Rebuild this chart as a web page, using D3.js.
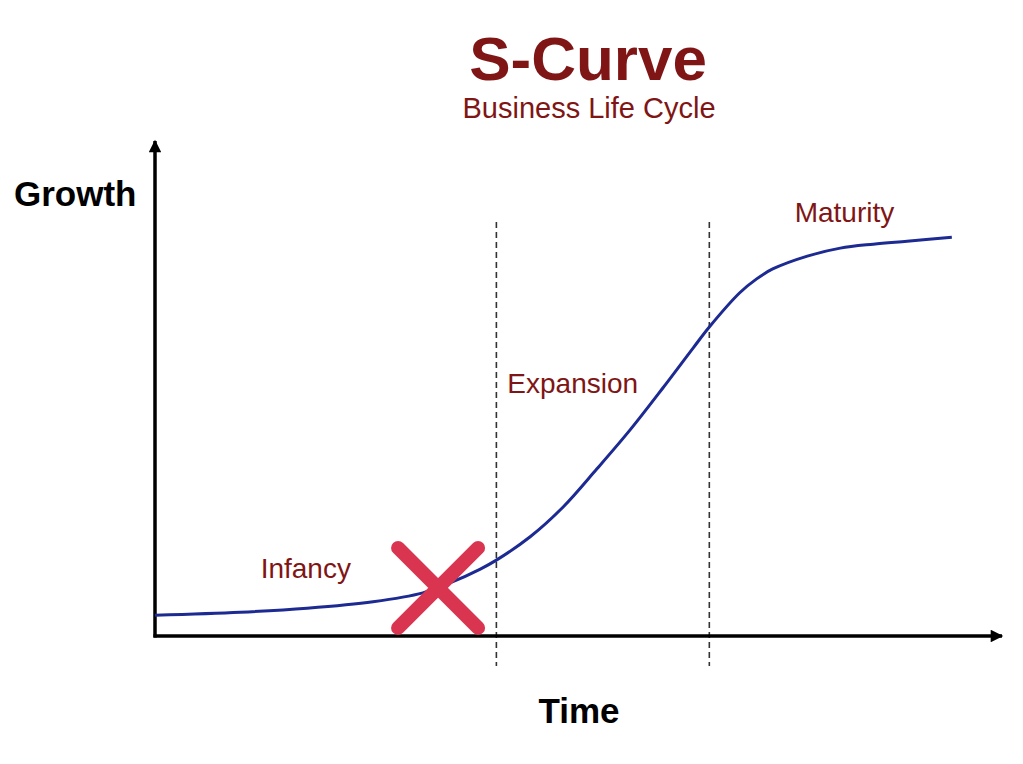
<!DOCTYPE html>
<html>
<head>
<meta charset="utf-8">
<script src="https://cdn.jsdelivr.net/npm/d3@7"></script>
<style>
  html, body { margin: 0; padding: 0; background: #fff; }
  svg { display: block; font-family: "Liberation Sans", Arial, Helvetica, sans-serif; }
</style>
</head>
<body>
<div id="chart"></div>
<script>
// curve (time, growth), both 0..100
var timeValues   = [0, 10.1, 18, 25.8, 31.7, 34.9, 38.5, 40.4, 44.4, 48.3, 52.3, 56.2, 60.1, 63.7, 65.6, 69.2, 71.2, 73.1, 77.2, 81.1, 85, 89, 94.3];
var growthValues = [4.2, 4.8, 5.6, 6.9, 8.7, 10.7, 13.5, 15.3, 20.0, 26.0, 33.7, 41.5, 50.0, 58.1, 62.3, 69.2, 72.0, 74.0, 76.6, 78.2, 79.0, 79.6, 80.4];

// stage boundaries (time) and stage labels
var stageBounds = [40.4, 65.6];
var stageNames  = ["Infancy", "Expansion", "Maturity"];
var stageLabelX = [12.5, 41.7, 75.7];
var stageLabelY = [11.7, 49.0, 83.5];

// crossed-out point
var crossPoint = [33.5, 9.7];

var width = 1023, height = 764;
var margin = { left: 155, right: 1000, top: 140, bottom: 636 };

var svg = d3.select("#chart").append("svg")
    .attr("width", width)
    .attr("height", height);

var x = d3.scaleLinear().domain([0, 100]).range([margin.left, margin.right]);
var y = d3.scaleLinear().domain([0, 100]).range([margin.bottom, margin.top]);

var points = timeValues.map(function(t, i) { return [t, growthValues[i]]; });

// arrow heads
var defs = svg.append("defs");
defs.append("marker")
    .attr("id", "arrow")
    .attr("viewBox", "0 0 10 10")
    .attr("refX", 9).attr("refY", 5)
    .attr("markerWidth", 4.4).attr("markerHeight", 3.6)
    .attr("markerUnits", "strokeWidth")
    .attr("orient", "auto")
    .append("path")
    .attr("d", "M0,0 L10,5 L0,10 Z")
    .attr("fill", "#000");

// dashed stage dividers
svg.selectAll(".divider")
    .data(stageBounds)
    .enter().append("line")
    .attr("class", "divider")
    .attr("x1", function(d) { return x(d); })
    .attr("x2", function(d) { return x(d); })
    .attr("y1", 222)
    .attr("y2", 666)
    .attr("stroke", "#333")
    .attr("stroke-width", 1.6)
    .attr("stroke-dasharray", "6,4");

// axes
svg.append("line")
    .attr("x1", x(0)).attr("y1", y(0) + 1.5)
    .attr("x2", x(0)).attr("y2", 141)
    .attr("stroke", "#000").attr("stroke-width", 3.5)
    .attr("marker-end", "url(#arrow)");
svg.append("line")
    .attr("x1", x(0) - 1.5).attr("y1", y(0))
    .attr("x2", 1002).attr("y2", y(0))
    .attr("stroke", "#000").attr("stroke-width", 3.5)
    .attr("marker-end", "url(#arrow)");

// s-curve
var line = d3.line()
    .x(function(d) { return x(d[0]); })
    .y(function(d) { return y(d[1]); })
    .curve(d3.curveCatmullRom.alpha(0.5));
svg.append("path")
    .datum(points)
    .attr("d", line)
    .attr("fill", "none")
    .attr("stroke", "#1c2a92")
    .attr("stroke-width", 3);

// red X
var cx = x(crossPoint[0]), cy = y(crossPoint[1]), r = 40;
svg.append("path")
    .attr("d", "M" + (cx - r) + "," + (cy - r) + "L" + (cx + r) + "," + (cy + r) +
               "M" + (cx + r) + "," + (cy - r) + "L" + (cx - r) + "," + (cy + r))
    .attr("stroke", "#d93550")
    .attr("stroke-width", 14)
    .attr("stroke-linecap", "round")
    .attr("fill", "none");

// stage labels
svg.selectAll(".stage")
    .data(stageNames)
    .enter().append("text")
    .attr("class", "stage")
    .attr("x", function(d, i) { return x(stageLabelX[i]); })
    .attr("y", function(d, i) { return y(stageLabelY[i]); })
    .attr("font-size", 28)
    .attr("fill", "#7f1515")
    .text(function(d) { return d; });

// titles
svg.append("text")
    .attr("x", 588).attr("y", 80)
    .attr("text-anchor", "middle")
    .attr("font-size", 62).attr("font-weight", "bold")
    .attr("fill", "#7f1515")
    .text("S-Curve");
svg.append("text")
    .attr("x", 589).attr("y", 118)
    .attr("text-anchor", "middle")
    .attr("font-size", 29)
    .attr("fill", "#7f1515")
    .text("Business Life Cycle");

// axis titles
svg.append("text")
    .attr("x", 14).attr("y", 206)
    .attr("font-size", 35).attr("font-weight", "bold")
    .attr("fill", "#000")
    .text("Growth");
svg.append("text")
    .attr("x", 579).attr("y", 723)
    .attr("text-anchor", "middle")
    .attr("font-size", 35).attr("font-weight", "bold")
    .attr("fill", "#000")
    .text("Time");
</script>
</body>
</html>
